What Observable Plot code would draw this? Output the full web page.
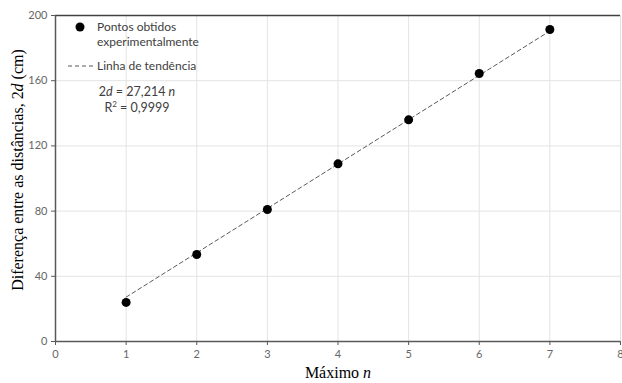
<!DOCTYPE html>
<html><head><meta charset="utf-8">
<script src="https://cdn.jsdelivr.net/npm/d3@7"></script>
<script src="https://cdn.jsdelivr.net/npm/@observablehq/plot@0.6"></script>
<style>body{margin:0;background:#fff}</style></head>
<body><div id="chart"></div>
<script>
const maximo = [1, 2, 3, 4, 5, 6, 7];
const diferenca = [24, 53.4, 81, 109, 136, 164.4, 191.4];
const slope = 27.214;
const r2 = "0,9999";
const xTicks = [0, 1, 2, 3, 4, 5, 6, 7, 8];
const yTicks = [0, 40, 80, 120, 160, 200];
const trendRange = [1, 7];

const pontos = maximo.map((n, i) => ({n, d: diferenca[i]}));
const tendencia = trendRange.map(n => ({n, d: slope * n}));

const sans = "Lato, 'Open Sans', sans-serif";
const serif = "'Liberation Serif', 'DejaVu Serif', serif";

const chart = Plot.plot({
  width: 622, height: 383,
  marginLeft: 55, marginRight: 2, marginTop: 15, marginBottom: 42,
  x: {domain: [0, 8]},
  y: {domain: [0, 200]},
  style: {fontFamily: sans, fontSize: "11px", color: "#595959", background: "#fff"},
  marks: [
    Plot.gridX(xTicks, {stroke: "#e3e3e3", strokeOpacity: 1}),
    Plot.gridY(yTicks, {stroke: "#e3e3e3", strokeOpacity: 1}),
    Plot.axisX(xTicks, {tickSize: 4, tickPadding: 5, label: null, stroke: "#595959", fill: "#666"}),
    Plot.axisY(yTicks, {tickSize: 4, tickPadding: 4, label: null, stroke: "#595959", fill: "#666"}),
    Plot.ruleY([200], {stroke: "#404040", strokeWidth: 1.5}),
    Plot.ruleY([0], {stroke: "#595959", strokeWidth: 1.5}),
    Plot.ruleX([0], {stroke: "#595959", strokeWidth: 1.5}),
    Plot.line(tendencia, {x: "n", y: "d", stroke: "#595959", strokeWidth: 1, strokeDasharray: "4,3"}),
    Plot.dot(pontos, {x: "n", y: "d", r: 4.5, fill: "black"})
  ]
});

const svg = d3.select(chart);
// Legend
const lg = svg.append("g").attr("font-family", sans).attr("fill", "#404040").attr("font-size", "12px")
  .attr("text-anchor", "start");
lg.append("circle").attr("cx", 80).attr("cy", 27).attr("r", 4.5).attr("fill", "black");
lg.append("text").attr("x", 97).attr("y", 31).text("Pontos obtidos");
lg.append("text").attr("x", 97).attr("y", 46).text("experimentalmente");
lg.append("line").attr("x1", 68).attr("x2", 95).attr("y1", 66).attr("y2", 66)
  .attr("stroke", "#595959").attr("stroke-dasharray", "4,3");
lg.append("text").attr("x", 97).attr("y", 70).text("Linha de tendência");
const eq = lg.append("text").attr("x", 137).attr("y", 96).attr("text-anchor", "middle")
  .attr("font-size", "12.5px").attr("xml:space", "preserve").style("white-space", "pre");
eq.append("tspan").text("2");
eq.append("tspan").attr("font-style", "italic").text("d");
eq.append("tspan").text(" = " + String(slope).replace(".", ",") + " ");
eq.append("tspan").attr("font-style", "italic").text("n");
const rr = lg.append("text").attr("x", 137).attr("y", 112).attr("text-anchor", "middle")
  .attr("font-size", "12.5px").style("white-space", "pre");
rr.append("tspan").text("R");
rr.append("tspan").attr("font-size", "8px").attr("dy", -5).text("2");
rr.append("tspan").attr("dy", 5).text(" = " + r2);

// Axis titles
const xt = svg.append("text").attr("x", 338).attr("y", 378).attr("text-anchor", "middle")
  .attr("font-family", serif).attr("font-size", "16px").attr("fill", "#000").style("white-space", "pre");
xt.append("tspan").text("Máximo ");
xt.append("tspan").attr("font-style", "italic").text("n");
const yt = svg.append("text").attr("transform", "translate(23,170) rotate(-90)").attr("text-anchor", "middle")
  .attr("font-family", serif).attr("font-size", "16px").attr("fill", "#000");
yt.append("tspan").text("Diferença entre as distâncias, 2");
yt.append("tspan").attr("font-style", "italic").text("d");
yt.append("tspan").text(" (cm)");

document.getElementById("chart").appendChild(chart);
</script>
</body></html>
